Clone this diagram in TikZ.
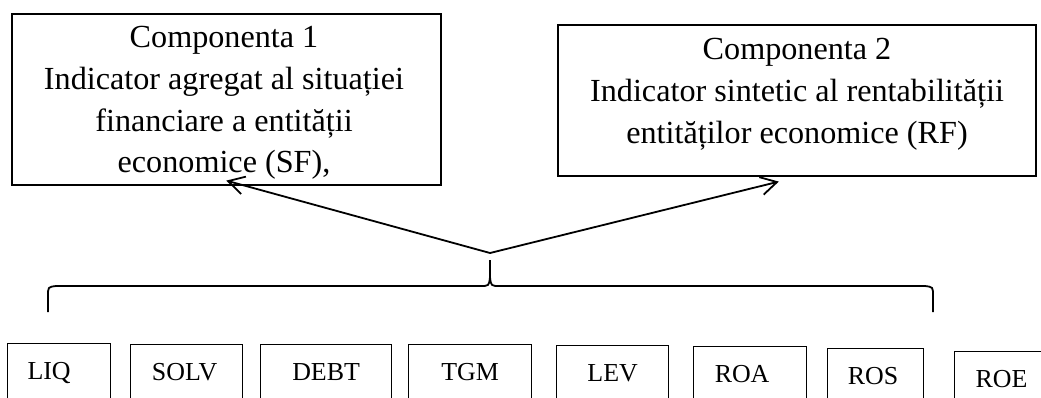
\documentclass[tikz,border=0pt]{standalone}
\usepackage{fontspec}
\setmainfont{Liberation Serif}
\usetikzlibrary{arrows.meta}
\begin{document}
\begin{tikzpicture}[x=1bp,y=-1bp,
  bigbox/.style={draw, line width=1.6bp, inner sep=0pt, anchor=north west},
  bigtext/.style={align=center, inner sep=0pt, font=\fontsize{32.3}{42}\selectfont},
  smallbox/.style={draw, line width=1.2bp, anchor=north west, inner sep=0pt,
    minimum height=55bp, text height=17bp, text depth=0pt,
    font=\fontsize{26}{30}\selectfont},
  link/.style={line width=1.8bp,
    -{Straight Barb[length=16bp,width=18bp,line width=1.8bp]}},
  brace/.style={line width=1.8bp}]
\useasboundingbox (0,0) rectangle (1041,397);
\clip (0,0) rectangle (1041,397);

% the two components
\node[bigbox, minimum width=429bp, minimum height=171bp] (c1) at (11,13) {};
\node[bigtext] (c1t) at (224,103) {Componenta 1\\Indicator agregat al situației\\financiare a entității\\economice (SF),};
\node[bigbox, minimum width=478bp, minimum height=151bp] (c2) at (557,24) {};
\node[bigtext] (c2t) at (797,94) {Componenta 2\\Indicator sintetic al rentabilității\\entităților economice (RF)};

% the grouping brace and its arrows
\coordinate (hub) at (490,253);
\coordinate (tip) at (490,260);
\coordinate (mid) at (490,277);
\draw[brace] (48,312) -- (48,296) .. controls (48,287) .. (56,286) -- (480,286)
  .. controls (489,286) .. (mid) .. controls (491,286) .. (500,286) -- (925,286)
  .. controls (933,287) .. (933,296) -- (933,312);
\draw[brace] (mid) -- (tip);
\draw[link] (hub) -- ([yshift=5bp]c1.south);
\draw[link] (hub) -- ([xshift=-18bp,yshift=-5bp]c2.south);

% the indicators
\node[smallbox, minimum width=103bp] (liq)  at (7,343)   {LIQ\hspace*{20bp}};
\node[smallbox, minimum width=112bp] (solv) at (130,344) {SOLV\hspace*{4bp}};
\node[smallbox, minimum width=131bp] (debt) at (260,344) {DEBT};
\node[smallbox, minimum width=123bp] (tgm)  at (408,344) {TGM};
\node[smallbox, minimum width=112bp] (lev)  at (556,345) {LEV};
\node[smallbox, minimum width=113bp] (roa)  at (693,346) {ROA\hspace*{16bp}};
\node[smallbox, minimum width=96bp]  (ros)  at (827,348) {ROS\hspace*{5bp}};
\node[smallbox, minimum width=94bp]  (roe)  at (954,351) {ROE};
\end{tikzpicture}
\end{document}
